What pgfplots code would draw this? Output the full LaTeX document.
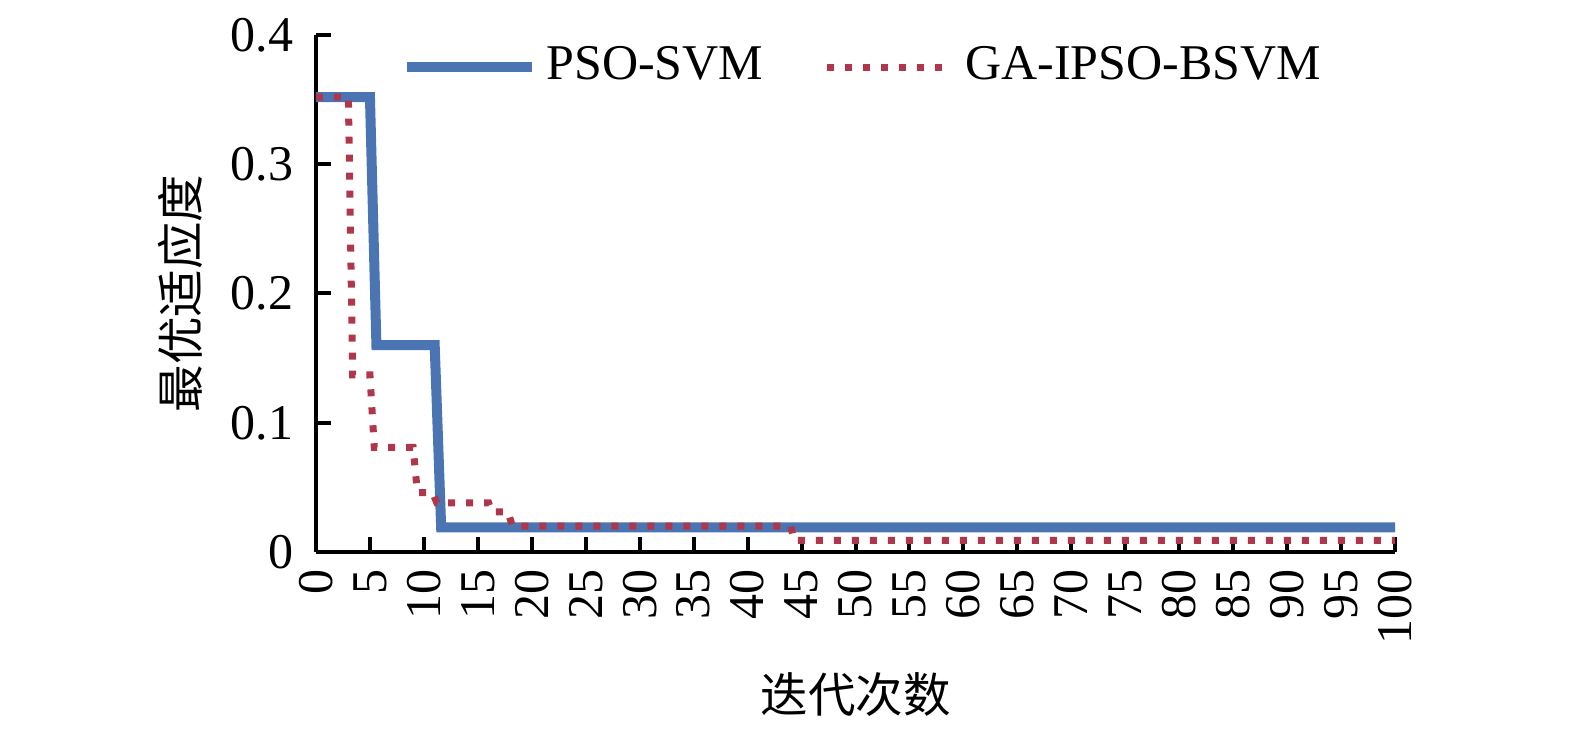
\documentclass[border=0pt]{standalone}
\usepackage{fontspec}
\setmainfont{Liberation Serif}
\newfontfamily\cjk{Noto Sans CJK SC}
\usepackage{pgfplots}
\pgfplotsset{compat=1.18}
\definecolor{psoblue}{RGB}{74,116,178}
\definecolor{gared}{RGB}{176,55,75}
\begin{document}
\fontsize{10pt}{12pt}\selectfont
\begin{tikzpicture}
\begin{axis}[
  scale only axis,
  width=215.8pt, height=103.4pt,
  xmin=0, xmax=100, ymin=0, ymax=0.4,
  axis lines*=left,
  axis line style={line width=0.8pt, black},
  tick align=inside,
  major tick length=3pt,
  tick style={line width=0.8pt, black},
  xtick={0,5,...,100},
  ytick={0,0.1,0.2,0.3,0.4},
  yticklabels={0,0.1,0.2,0.3,0.4},
  /pgf/number format/assume math mode=true,
  x tick label style={rotate=90, anchor=east, font=\fontsize{10pt}{12pt}\selectfont},
  y tick label style={font=\fontsize{10pt}{12pt}\selectfont, xshift=-1pt},
  xlabel={\cjk 迭代次数},
  ylabel={\cjk 最优适应度},
  x label style={at={(axis description cs:0.5,0)}, anchor=center, yshift=-28.6pt, font=\fontsize{9.5pt}{12pt}\selectfont},
  y label style={at={(axis description cs:0,0.5)}, anchor=center, rotate=0, yshift=27.2pt, font=\fontsize{9.5pt}{12pt}\selectfont},
  legend columns=2,
  legend style={at={(axis description cs:0.51,0.938)}, anchor=center, draw=none, fill=none,
    font=\fontsize{10pt}{12pt}\selectfont,
    /tikz/every even column/.append style={column sep=10pt}},
  legend image code/.code={\draw[#1] (0pt,0pt) -- (25pt,0pt);},
]
\addplot[psoblue, line width=2pt, line join=miter] coordinates {
(0,0.352) (5,0.352) (5.6,0.160) (11,0.160) (11.6,0.019) (100,0.019)
};
\addlegendentry{PSO-SVM}
\addplot[gared, line width=1.4pt, dash pattern=on 1.4pt off 2.2pt] coordinates {
(0,0.352) (3,0.352) (3.4,0.137) (5,0.137) (5.4,0.081) (9,0.081) (9.4,0.046) (10.8,0.046) (11.2,0.038) (16,0.038) (16.3,0.031) (17.8,0.031) (18.2,0.020) (44,0.020) (44.3,0.009) (100,0.009)
};
\addlegendentry{GA-IPSO-BSVM}
\end{axis}
\pgfresetboundingbox
\path (current axis.south west) ++(-63.2pt,-35.6pt) rectangle ++(315pt,146pt);
\end{tikzpicture}
\end{document}
